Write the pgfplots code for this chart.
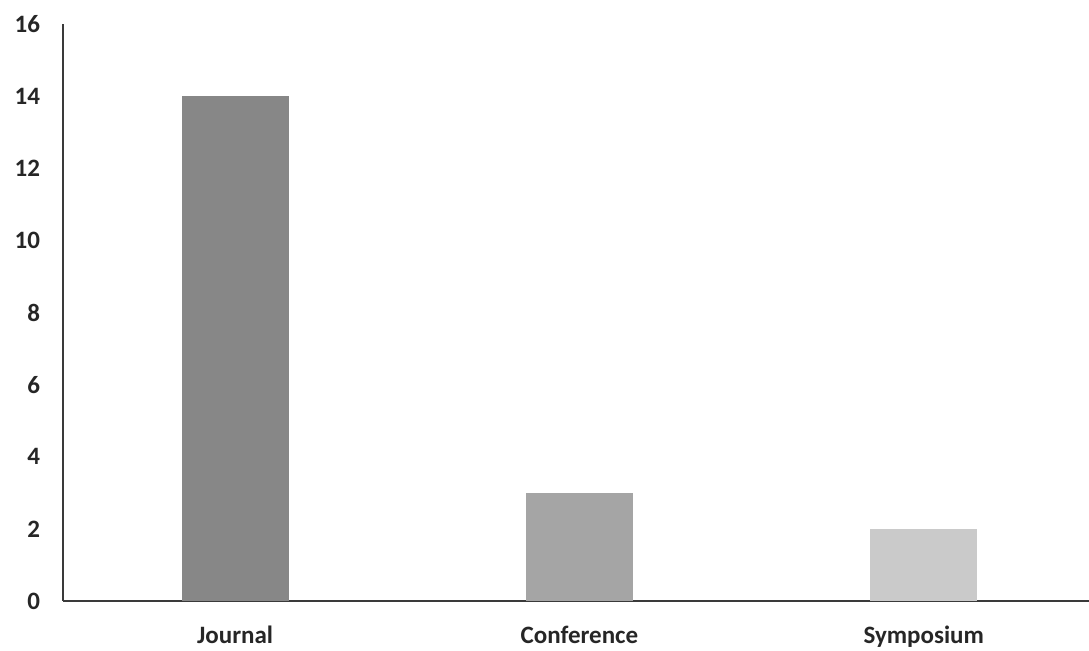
\documentclass[border=0pt]{standalone}
\usepackage{pgfplots}
\pgfplotsset{compat=1.18}
\usepackage{fontspec}
\setmainfont{Carlito}
\definecolor{barA}{HTML}{878787}
\definecolor{barB}{HTML}{A5A5A5}
\definecolor{barC}{HTML}{CACACA}
\definecolor{axisgray}{HTML}{3A3A3A}
\begin{document}
\begin{tikzpicture}
\path[use as bounding box] (-31.5pt,-25pt) rectangle (513pt,300.5pt);
\begin{axis}[
  at={(0,0)}, anchor=south west,
  scale only axis,
  width=513pt, height=288.5pt,
  xmin=-0.5, xmax=2.48,
  ymin=0, ymax=16,
  ytick={0,2,...,16},
  xtick={0,1,2},
  xticklabels={Journal,Conference,Symposium},
  axis x line=bottom, axis y line=left,
  axis line style={-, draw=axisgray, line width=0.8pt},
  major tick length=0pt,
  ybar, bar width=0.31, bar shift=0pt,
  tick label style={font=\fontsize{12.5}{14}\selectfont\bfseries, text=black!85},
  /pgf/number format/assume math mode=true,
  yticklabel style={xshift=-8pt},
  xticklabel style={yshift=-9pt},
  clip=false,
]
\addplot[fill=barA, draw=none] coordinates {(0,14)};
\addplot[fill=barB, draw=none] coordinates {(1,3)};
\addplot[fill=barC, draw=none] coordinates {(2,2)};
\end{axis}
\end{tikzpicture}
\end{document}
